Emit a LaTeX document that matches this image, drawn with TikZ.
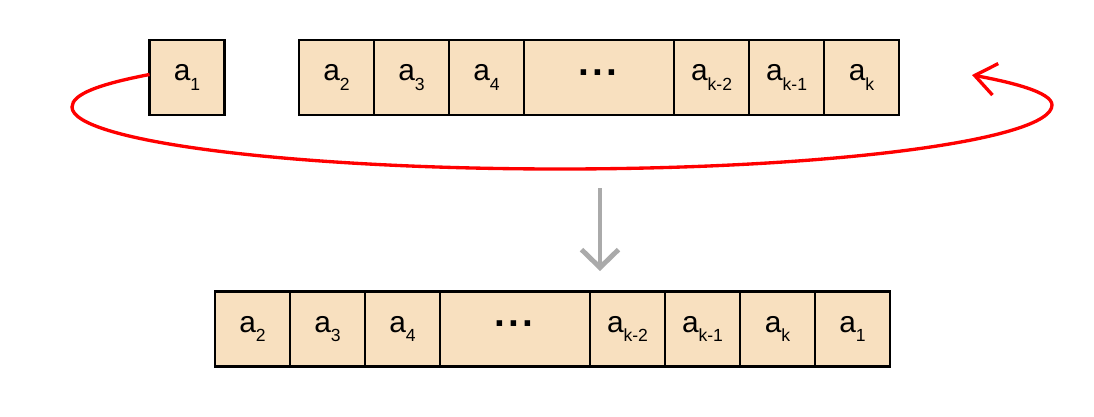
\documentclass[tikz,border=0pt]{standalone}
\usepackage{fontspec}
\setmainfont{Liberation Sans}
\usetikzlibrary{arrows.meta}
\definecolor{cellfill}{RGB}{248,224,191}
\definecolor{arrgray}{RGB}{170,170,170}
\newcommand{\lab}[1]{a\raisebox{-5.5pt}{\fontsize{10}{12}\selectfont #1}}
\newcommand{\ddd}{{\fontsize{22}{24}\selectfont\textbf{·\hspace{0.5pt}·\hspace{0.5pt}·}}}

\begin{document}
\begin{tikzpicture}[x=0.02cm,y=-0.02cm,
  cell/.style={draw=black,line width=1.2pt,fill=cellfill,minimum width=1.5cm,minimum height=1.5cm,
    inner sep=0pt,outer sep=0pt,font=\fontsize{17}{20}\selectfont},
  wide/.style={cell,minimum width=3cm},
  rotline/.style={draw=red,line width=1.9pt,-{Straight Barb[length=0.42cm,width=0.64cm]}},
  downarr/.style={draw=arrgray,line width=2.8pt,-{Straight Barb[length=0.36cm,width=0.74cm]}}]
  \useasboundingbox (0,0) rectangle (1094,416);
  % top: a_1 taken off the front
  \node[cell] (t1) at (187,77.5) {\lab{1}};
  \node[cell] (t2) at (336.5,77.5) {\lab{2}};
  \node[cell] (t3) at (411.5,77.5) {\lab{3}};
  \node[cell] (t4) at (486.5,77.5) {\lab{4}};
  \node[wide] (tdots) at (599,77.5) {\ddd};
  \node[cell] (tk2) at (711.5,77.5) {\lab{k-2}};
  \node[cell] (tk1) at (786.5,77.5) {\lab{k-1}};
  \node[cell] (tk) at (861.5,77.5) {\lab{k}};
  % bottom: rotated result
  \node[cell] (b2) at (252.5,329) {\lab{2}};
  \node[cell] (b3) at (327.5,329) {\lab{3}};
  \node[cell] (b4) at (402.5,329) {\lab{4}};
  \node[wide] (bdots) at (515,329) {\ddd};
  \node[cell] (bk2) at (627.5,329) {\lab{k-2}};
  \node[cell] (bk1) at (702.5,329) {\lab{k-1}};
  \node[cell] (bk) at (777.5,329) {\lab{k}};
  \node[cell] (b1) at (852.5,329) {\lab{1}};
  % arrows
  \coordinate (tip) at (972,75);
  \draw[rotline] ([yshift=0.06cm]t1.west) .. controls (100,84) and (72,94) .. (72,107)
    .. controls (72,141) and (291,169) .. (560,169)
    .. controls (832,169) and (1052,140) .. (1052,105)
    .. controls (1052,92) and (1010,82) .. (tip);
  \coordinate (dn1) at (600,188);
  \coordinate (dn2) at (600,271);
  \draw[downarr] (dn1) -- (dn2);
\end{tikzpicture}
\end{document}
